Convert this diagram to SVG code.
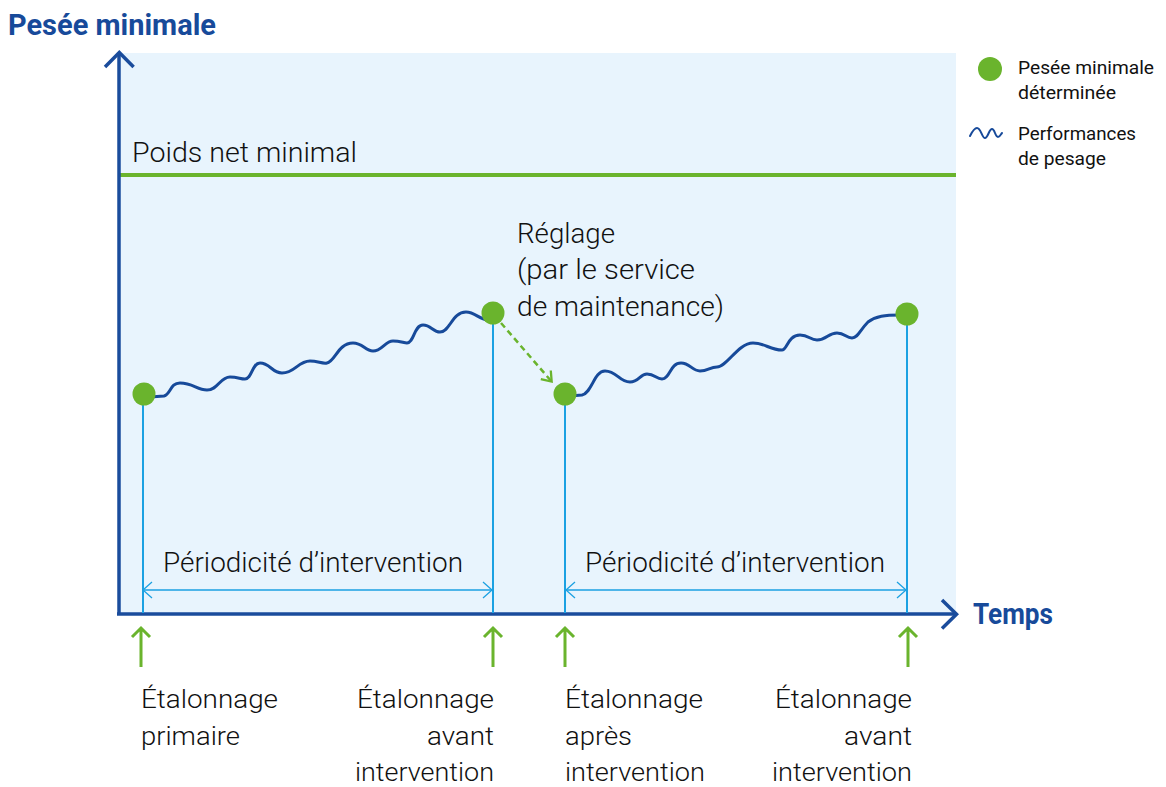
<svg xmlns="http://www.w3.org/2000/svg" width="1166" height="787" viewBox="0 0 1166 787">
  <defs>
    <style>
      .txt{font-family:Roboto,"Liberation Sans",sans-serif;font-weight:300;fill:#111111;}
      .big{font-size:28px;}
      .cal{font-size:26px;}
      .leg{font-size:19px;font-weight:400;}
      .ttl{font-family:Roboto,"Liberation Sans",sans-serif;font-weight:700;font-size:30px;fill:#174a9a;}
      .axis{fill:none;stroke:#1a4c9c;stroke-width:3.5;}
      .drop{stroke:#1ba1e2;stroke-width:2;}
      .dot{fill:#6ab42d;}
      .wave{fill:none;stroke:#174a9a;stroke-width:3;stroke-linecap:round;stroke-linejoin:round;}
      .up{fill:none;stroke:#6ab42d;stroke-width:3;}
      .span{fill:none;stroke:#1ba1e2;stroke-width:1.3;}
      .adjust{fill:none;stroke:#6ab42d;stroke-width:2.5;stroke-dasharray:6 4;}
    </style>
    <marker id="spanHead" viewBox="0 0 12 20" markerUnits="userSpaceOnUse" markerWidth="12" markerHeight="20" refX="10" refY="10" orient="auto-start-reverse">
      <path d="M1,2 L10,10 L1,18" fill="none" stroke="#1ba1e2" stroke-width="1.3"/>
    </marker>
    <marker id="dashHead" viewBox="0 0 12 16" markerUnits="userSpaceOnUse" markerWidth="12" markerHeight="16" refX="10.5" refY="8" orient="auto">
      <path d="M1,1.4 L10,8 L1,14.6" fill="none" stroke="#6ab42d" stroke-width="2.3"/>
    </marker>
  </defs>

  <!-- plot area -->
  <rect id="plot-area" x="120" y="53" width="836" height="560" fill="#e8f4fd"/>

  <!-- minimum net weight threshold -->
  <g id="threshold">
    <line x1="120" y1="175" x2="956" y2="175" stroke="#6ab42d" stroke-width="4"/>
    <text class="txt big" x="132" y="162" textLength="225" lengthAdjust="spacingAndGlyphs">Poids net minimal</text>
  </g>

  <!-- axes -->
  <g id="axes">
    <path class="axis" d="M119,615 L119,54"/>
    <path class="axis" d="M105,67 L119.3,52.5 L133.6,67"/>
    <path class="axis" d="M117,614 L955,614"/>
    <path class="axis" d="M942,600 L956.5,614.3 L942,628.6"/>
    <text class="ttl" x="8" y="35" textLength="208" lengthAdjust="spacingAndGlyphs">Pesée minimale</text>
    <text class="ttl" x="973" y="624" textLength="80" lengthAdjust="spacingAndGlyphs">Temps</text>
  </g>

  <!-- weighing performance curves -->
  <g id="performance">
    <path class="wave" d="M150,397 L164,396 C171,394 170,383 180,383 C193,383 197,390 207,390 C218,390 220,377 230,377 C238,377 240,379 245,379 C252,379 252,363 260,363 C270,363 272,373 282,373 C295,373 298,361 310,361 C318,361 322,364 327,363 C335,362 338,343 353,343 C363,343 365,351 373,351 C382,351 385,341 393,341 C400,341 404,343 407,343 C414,343 414,325 423,325 C431,325 433,332 440,332 C450,332 452,312 466,312 C476,312 480,321 490,320"/>
    <path class="wave" d="M570,396 L582,395 C592,393 594,371 605,371 C617,371 619,382 630,382 C639,382 640,374 647,374 C655,374 656,379 662,379 C670,379 670,363 681,363 C690,363 692,371 700,371 C708,371 710,367 717,367 C727,367 738,343 753,343 C765,343 770,350 782,350 C787,350 788,335 800,335 C809,335 810,340 817,340 C827,340 828,333 837,333 C845,333 846,338 852,338 C858,338 860,330 868,322 C876,316 885,315 900,315"/>
  </g>

  <!-- connectors -->
  <g id="connectors">
    <line class="drop" x1="143" y1="395" x2="143" y2="613"/>
    <line class="drop" x1="493" y1="313" x2="493" y2="613"/>
    <line class="drop" x1="565" y1="394" x2="565" y2="613"/>
    <line class="drop" x1="907" y1="314" x2="907" y2="613"/>
    <line class="span" x1="143" y1="590" x2="492" y2="590" marker-start="url(#spanHead)" marker-end="url(#spanHead)"/>
    <line class="span" x1="566" y1="590" x2="906" y2="590" marker-start="url(#spanHead)" marker-end="url(#spanHead)"/>
    <line class="adjust" x1="501" y1="323" x2="552" y2="382" marker-end="url(#dashHead)"/>
    <path class="up" d="M141,667 L141,628 M132,637 L141,628 L150,637"/>
    <path class="up" d="M493,667 L493,628 M484,637 L493,628 L502,637"/>
    <path class="up" d="M565,667 L565,628 M556,637 L565,628 L574,637"/>
    <path class="up" d="M908,667 L908,628 M899,637 L908,628 L917,637"/>
  </g>

  <!-- determined minimum weight points -->
  <g id="point-primary"><circle class="dot" cx="144" cy="394" r="11.5"/></g>
  <g id="point-before-1"><circle class="dot" cx="493" cy="313" r="11.5"/></g>
  <g id="point-after"><circle class="dot" cx="565" cy="394" r="11.5"/></g>
  <g id="point-before-2"><circle class="dot" cx="907" cy="314" r="11.5"/></g>

  <!-- adjustment note -->
  <g id="adjustment-label">
    <text class="txt big" x="517" y="243" textLength="98" lengthAdjust="spacingAndGlyphs">Réglage</text>
    <text class="txt big" x="517" y="279" textLength="178" lengthAdjust="spacingAndGlyphs">(par le service</text>
    <text class="txt big" x="517" y="316" textLength="207" lengthAdjust="spacingAndGlyphs">de maintenance)</text>
  </g>

  <!-- interval labels -->
  <g id="interval-1">
    <text class="txt big" x="163" y="572" textLength="300" lengthAdjust="spacingAndGlyphs">Périodicité d’intervention</text>
  </g>
  <g id="interval-2">
    <text class="txt big" x="585" y="572" textLength="300" lengthAdjust="spacingAndGlyphs">Périodicité d’intervention</text>
  </g>

  <!-- calibration labels -->
  <g id="cal-primary">
    <text class="txt cal" x="141" y="708" textLength="137" lengthAdjust="spacingAndGlyphs">Étalonnage</text>
    <text class="txt cal" x="141" y="745" textLength="99" lengthAdjust="spacingAndGlyphs">primaire</text>
  </g>
  <g id="cal-before-1" text-anchor="end">
    <text class="txt cal" x="494" y="708" textLength="137" lengthAdjust="spacingAndGlyphs">Étalonnage</text>
    <text class="txt cal" x="494" y="745" textLength="67" lengthAdjust="spacingAndGlyphs">avant</text>
    <text class="txt cal" x="494" y="781" textLength="139" lengthAdjust="spacingAndGlyphs">intervention</text>
  </g>
  <g id="cal-after">
    <text class="txt cal" x="565" y="708" textLength="138" lengthAdjust="spacingAndGlyphs">Étalonnage</text>
    <text class="txt cal" x="565" y="745" textLength="67" lengthAdjust="spacingAndGlyphs">après</text>
    <text class="txt cal" x="565" y="781" textLength="140" lengthAdjust="spacingAndGlyphs">intervention</text>
  </g>
  <g id="cal-before-2" text-anchor="end">
    <text class="txt cal" x="912" y="708" textLength="137" lengthAdjust="spacingAndGlyphs">Étalonnage</text>
    <text class="txt cal" x="912" y="745" textLength="68" lengthAdjust="spacingAndGlyphs">avant</text>
    <text class="txt cal" x="912" y="781" textLength="140" lengthAdjust="spacingAndGlyphs">intervention</text>
  </g>

  <!-- legend -->
  <g id="legend">
    <circle class="dot" cx="990" cy="69" r="12"/>
    <text class="txt leg" x="1018" y="74" textLength="136" lengthAdjust="spacingAndGlyphs">Pesée minimale</text>
    <text class="txt leg" x="1018" y="99" textLength="98" lengthAdjust="spacingAndGlyphs">déterminée</text>
    <path class="wave" style="stroke-width:2" d="M970,136 C973,130 975,128 977,128 C981,128 982,138 985,138 C988,138 989,129 992,129 C995,129 995,137 998,137 C1000,137 1001,134 1002,133"/>
    <text class="txt leg" x="1018" y="140" textLength="118" lengthAdjust="spacingAndGlyphs">Performances</text>
    <text class="txt leg" x="1018" y="165" textLength="88" lengthAdjust="spacingAndGlyphs">de pesage</text>
  </g>
</svg>
